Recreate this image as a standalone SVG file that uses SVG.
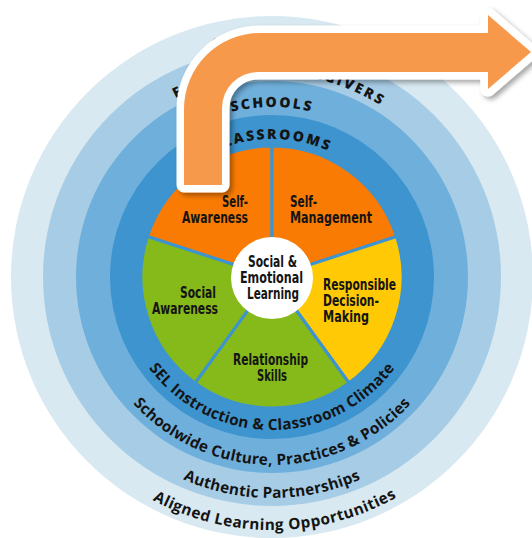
<svg xmlns="http://www.w3.org/2000/svg" width="532" height="538" viewBox="0 0 532 538">
  <style>
    .ring-cap { font-family: "Open Sans", "DejaVu Sans", sans-serif; font-weight: 800; font-size: 14px; letter-spacing: 2.2px; fill: #141414; }
    .ring-txt { font-family: "Open Sans", "DejaVu Sans", sans-serif; font-weight: 700; font-size: 15.3px; letter-spacing: 0.25px; fill: #141414; }
    .lbl { font-family: "DejaVu Sans Condensed", "DejaVu Sans", sans-serif; font-weight: 700; font-size: 16px; fill: #141414; }
    .wedge { stroke: #3D94CF; stroke-width: 3; stroke-linejoin: round; }
    .orange { fill: #F97B03; }
    .yellow { fill: #FFCA05; }
    .green { fill: #86B91A; }
  </style>
  <defs>
    <!-- top arcs run clockwise (left to right over the top), bottom arcs left to right under the bottom -->
    <path id="top138" d="M134,277 A138,138 0 0 1 410,277"/>
    <path id="top170" d="M102,277 A170,170 0 0 1 442,277"/>
    <path id="top203" d="M69,277 A203,203 0 0 1 475,277"/>
    <path id="top235" d="M37,277 A235,235 0 0 1 507,277"/>
    <path id="bot153" d="M119,277 A153,153 0 0 0 425,277"/>
    <path id="bot188" d="M84,277 A188,188 0 0 0 460,277"/>
    <path id="bot221" d="M51,277 A221,221 0 0 0 493,277"/>
    <path id="bot253" d="M19,277 A253,253 0 0 0 525,277"/>
    <filter id="shadow" x="-10%" y="-10%" width="130%" height="140%">
      <feDropShadow dx="3" dy="3" stdDeviation="2.5" flood-color="#000" flood-opacity="0.35"/>
    </filter>
  </defs>

  <!-- concentric context rings -->
  <g id="rings">
    <circle id="ring-communities" cx="272" cy="277" r="261" fill="#D8E9F1"/>
    <circle id="ring-families" cx="272" cy="277" r="229" fill="#A7CCE5"/>
    <circle id="ring-schools" cx="272" cy="277" r="196" fill="#6FAFDB"/>
    <circle id="ring-classrooms" cx="272" cy="277" r="162" fill="#3D94CF"/>
  </g>

  <!-- ring titles -->
  <g id="ring-labels">
    <text class="ring-cap"><textPath href="#top235" startOffset="50.5%" text-anchor="middle">COMMUNITIES</textPath></text>
    <text class="ring-cap"><textPath href="#top203" startOffset="51.2%" text-anchor="middle">FAMILIES &amp; CAREGIVERS</textPath></text>
    <text class="ring-cap"><textPath href="#top170" startOffset="50%" text-anchor="middle">SCHOOLS</textPath></text>
    <text class="ring-cap"><textPath href="#top138" startOffset="50%" text-anchor="middle">CLASSROOMS</textPath></text>
    <text class="ring-txt"><textPath href="#bot153" startOffset="50%" text-anchor="middle">SEL Instruction &amp; Classroom Climate</textPath></text>
    <text class="ring-txt"><textPath href="#bot188" startOffset="50%" text-anchor="middle">Schoolwide Culture, Practices &amp; Policies</textPath></text>
    <text class="ring-txt"><textPath href="#bot221" startOffset="50%" text-anchor="middle">Authentic Partnerships</textPath></text>
    <text class="ring-txt"><textPath href="#bot253" startOffset="50.4%" text-anchor="middle" letter-spacing="0.5">Aligned Learning Opportunities</textPath></text>
  </g>

  <!-- five competency wedges -->
  <g id="self-awareness">
    <path class="wedge orange" d="M272,277 L147.4,236.5 A131,131 0 0 1 272,146 Z"/>
    <text class="lbl"><tspan x="222" y="207" textLength="26" lengthAdjust="spacingAndGlyphs">Self-</tspan><tspan x="182" y="223" textLength="66" lengthAdjust="spacingAndGlyphs">Awareness</tspan></text>
  </g>
  <g id="self-management">
    <path class="wedge orange" d="M272,277 L272,146 A131,131 0 0 1 396.6,236.5 Z"/>
    <text class="lbl"><tspan x="290" y="207" textLength="27" lengthAdjust="spacingAndGlyphs">Self-</tspan><tspan x="290" y="223" textLength="82" lengthAdjust="spacingAndGlyphs">Management</tspan></text>
  </g>
  <g id="responsible-decision-making">
    <path class="wedge yellow" d="M272,277 L396.6,236.5 A131,131 0 0 1 349,383 Z"/>
    <text class="lbl"><tspan x="323" y="290" textLength="73" lengthAdjust="spacingAndGlyphs">Responsible</tspan><tspan x="323" y="306" textLength="56" lengthAdjust="spacingAndGlyphs">Decision-</tspan><tspan x="323" y="322" textLength="46" lengthAdjust="spacingAndGlyphs">Making</tspan></text>
  </g>
  <g id="relationship-skills">
    <path class="wedge green" d="M272,277 L349,383 A131,131 0 0 1 195,383 Z"/>
    <text class="lbl"><tspan x="233" y="365" textLength="75" lengthAdjust="spacingAndGlyphs">Relationship</tspan><tspan x="257" y="381" textLength="30" lengthAdjust="spacingAndGlyphs">Skills</tspan></text>
  </g>
  <g id="social-awareness">
    <path class="wedge green" d="M272,277 L195,383 A131,131 0 0 1 147.4,236.5 Z"/>
    <text class="lbl"><tspan x="180" y="298" textLength="36" lengthAdjust="spacingAndGlyphs">Social</tspan><tspan x="152" y="314" textLength="66" lengthAdjust="spacingAndGlyphs">Awareness</tspan></text>
  </g>

  <g id="sel-core">
    <circle cx="272" cy="278" r="41" fill="#FFFFFF"/>
    <text class="lbl"><tspan x="248" y="267" textLength="49" lengthAdjust="spacingAndGlyphs">Social &amp;</tspan><tspan x="240" y="283" textLength="63" lengthAdjust="spacingAndGlyphs">Emotional</tspan><tspan x="247" y="299" textLength="52" lengthAdjust="spacingAndGlyphs">Learning</tspan></text>
  </g>

  <!-- bent arrow over the wheel -->
  <g id="connectors">
    <path d="M184,185 V109 A76,76 0 0 1 260,33 H488 V15 L531,52 L488,89 V72 H258 A36,36 0 0 0 222,108 V185 Z"
          fill="#F7994B" stroke="#FFFFFF" stroke-width="15" stroke-linejoin="round" paint-order="stroke" filter="url(#shadow)"/>
  </g>
</svg>
